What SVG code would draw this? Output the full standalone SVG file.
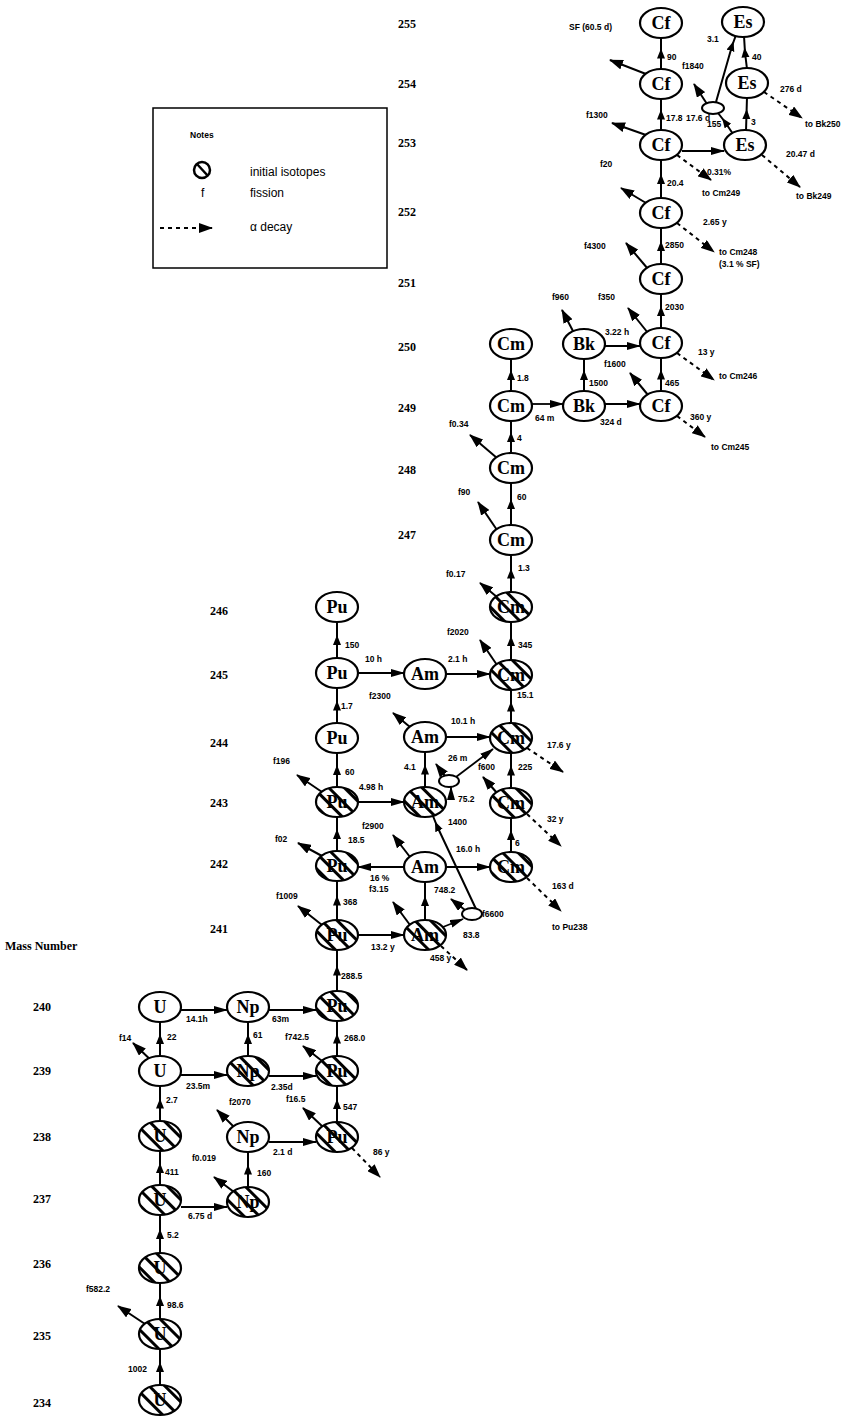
<svg xmlns="http://www.w3.org/2000/svg" width="846" height="1417" viewBox="0 0 846 1417">
<style>
.n ellipse{fill:#fff;stroke:#000;stroke-width:2.2}
.h ellipse{fill:url(#hatch);stroke:#000;stroke-width:2.2}
.s{fill:#fff;stroke:#000;stroke-width:2}
.n text,.h text{font-family:"Liberation Serif",serif;font-size:18px;font-weight:bold;text-anchor:middle}
.c{fill:none;stroke:#000;stroke-width:2;marker-mid:url(#am)}
.b{fill:none;stroke:#000;stroke-width:1.8;marker-end:url(#ae)}
.f{fill:none;stroke:#000;stroke-width:2;marker-end:url(#af)}
.a{fill:none;stroke:#000;stroke-width:2;stroke-dasharray:4 4;marker-end:url(#af)}
.l{font-family:"Liberation Sans",sans-serif;font-size:8.5px;font-weight:bold}
.m{font-family:"Liberation Serif",serif;font-size:12px;font-weight:bold}
.g{font-family:"Liberation Sans",sans-serif;font-size:12px}
</style>
<defs>
<pattern id="hatch" patternUnits="userSpaceOnUse" width="11" height="11" patternTransform="rotate(45)">
<rect width="11" height="11" fill="#fff"/><line x1="0" y1="5.5" x2="11" y2="5.5" stroke="#000" stroke-width="3"/>
</pattern>
<marker id="am" markerUnits="userSpaceOnUse" markerWidth="10" markerHeight="10" refX="5" refY="4" orient="auto"><path d="M0,0 L10,4 L0,8 z"/></marker>
<marker id="ae" markerUnits="userSpaceOnUse" markerWidth="14" markerHeight="10" refX="13" refY="4" orient="auto"><path d="M0,0 L14,4 L0,8 z"/></marker>
<marker id="af" markerUnits="userSpaceOnUse" markerWidth="14" markerHeight="10" refX="13" refY="5" orient="auto"><path d="M0,0 L14,5 L0,10 z"/></marker>
</defs>
<rect width="846" height="1417" fill="#fff"/>

<g id="legend">
<rect x="153" y="108" width="234" height="160" fill="none" stroke="#000" stroke-width="1.5"/>
<text x="190" y="138" class="l" font-size="9">Notes</text>
<circle cx="202" cy="170" r="8" fill="none" stroke="#000" stroke-width="2.5"/>
<line x1="197" y1="164" x2="208" y2="176" stroke="#000" stroke-width="2.5"/>
<text x="250" y="176" class="g">initial isotopes</text>
<text x="201" y="197" class="g">f</text>
<text x="250" y="197" class="g">fission</text>
<path d="M160,228 L212,228" class="a"/>
<text x="250" y="231" class="g">α decay</text>
</g>

<g id="mass-numbers" class="m">
<text x="5" y="950">Mass Number</text>
<text x="33" y="1011">240</text><text x="33" y="1075">239</text><text x="33" y="1141">238</text>
<text x="33" y="1203">237</text><text x="33" y="1268">236</text><text x="33" y="1340">235</text><text x="33" y="1407">234</text>
<text x="210" y="933">241</text><text x="210" y="868">242</text><text x="210" y="807">243</text>
<text x="210" y="747">244</text><text x="210" y="679">245</text><text x="210" y="615">246</text>
<text x="398" y="539">247</text><text x="398" y="474">248</text><text x="398" y="412">249</text>
<text x="398" y="351">250</text><text x="398" y="287">251</text><text x="398" y="216">252</text>
<text x="398" y="147">253</text><text x="398" y="88">254</text><text x="398" y="28">255</text>
</g>

<g id="connectors">
<path class="c" d="M160,1386 L160,1367 L160,1348"/>
<path class="c" d="M160,1320 L160,1301 L160,1282"/>
<path class="c" d="M160,1254 L160,1234 L160,1214"/>
<path class="c" d="M160,1186 L160,1168 L160,1150"/>
<path class="c" d="M160,1122 L160,1103.5 L160,1085"/>
<path class="c" d="M160,1057 L160,1039 L160,1021"/>
<path class="c" d="M248,1188 L248,1169.5 L248,1151"/>
<path class="c" d="M248,1057 L248,1039 L248,1021"/>
<path class="c" d="M337,1123 L337,1104 L337,1085"/>
<path class="c" d="M337,1057 L337,1038.5 L337,1020"/>
<path class="c" d="M337,992 L337,970.5 L337,949"/>
<path class="c" d="M337,921 L337,900.5 L337,880"/>
<path class="c" d="M337,852 L337,834 L337,816"/>
<path class="c" d="M337,788 L337,770 L337,752"/>
<path class="c" d="M337,724 L337,705.5 L337,687"/>
<path class="c" d="M337,659 L337,640 L337,621"/>
<path class="c" d="M425,921 L425,901 L425,881"/>
<path class="c" d="M425,788 L425,769.5 L425,751"/>
<path class="c" d="M511,853 L511,835 L511,817"/>
<path class="c" d="M511,789 L511,770.5 L511,752"/>
<path class="c" d="M511,724 L511,706.5 L511,689"/>
<path class="c" d="M511,661 L511,641 L511,621"/>
<path class="c" d="M511,593 L511,573.5 L511,554"/>
<path class="c" d="M511,526 L511,504 L511,482"/>
<path class="c" d="M511,454 L511,437 L511,420"/>
<path class="c" d="M511,392 L511,375 L511,358"/>
<path class="c" d="M584,392 L584,375 L584,358"/>
<path class="c" d="M661,392 L661,374.5 L661,357"/>
<path class="c" d="M661,329 L661,311 L661,293"/>
<path class="c" d="M661,265 L661,246 L661,227"/>
<path class="c" d="M661,199 L661,179 L661,159"/>
<path class="c" d="M661,131 L661,114.5 L661,98"/>
<path class="c" d="M661,70 L661,53.5 L661,37"/>
<path class="c" d="M746,131 L746.5,114 L747,97"/>
<path class="c" d="M747,69 L745,52.5 L744,36"/>
<path class="c" d="M733,134 L725,122 L718,113"/>
<path class="c" d="M716,102 L732,46 L736,35"/>
<path class="c" d="M476,909 L437,826 L433,816"/>

<path class="b" d="M181,1207 L227,1207"/>
<path class="b" d="M181,1075 L227,1075"/>
<path class="b" d="M181,1010 L227,1010"/>
<path class="b" d="M269,1142 L316,1142"/>
<path class="b" d="M269,1076 L316,1076"/>
<path class="b" d="M269,1010 L316,1010"/>
<path class="b" d="M358,935 L404,935"/>
<path class="b" d="M358,802 L404,802"/>
<path class="b" d="M358,673 L404,673"/>
<path class="b" d="M446,674 L490,674"/>
<path class="b" d="M446,737 L490,737"/>
<path class="b" d="M404,867 L358,867"/>
<path class="b" d="M446,867 L490,867"/>
<path class="b" d="M532,404 L563,404"/>
<path class="b" d="M605,404 L640,404"/>
<path class="b" d="M605,346 L640,346"/>
<path class="b" d="M682,151 L724,151"/>
<path class="b" d="M456,777 L493,749"/>
<path class="b" d="M451,799 L451,787"/>
<path class="b" d="M443,927 L463,919"/>

<path class="f" d="M145,1324 L118,1306"/>
<path class="f" d="M157,1066 L133,1043"/>
<path class="f" d="M234,1192 L214,1177"/>
<path class="f" d="M234,1127 L217,1110"/>
<path class="f" d="M323,1127 L303,1108"/>
<path class="f" d="M322,1061 L303,1046"/>
<path class="f" d="M322,925 L298,906"/>
<path class="f" d="M322,856 L298,843"/>
<path class="f" d="M322,792 L297,775"/>
<path class="f" d="M410,925 L393,902"/>
<path class="f" d="M410,857 L393,835"/>
<path class="f" d="M410,727 L393,713"/>
<path class="f" d="M497,793 L483,777"/>
<path class="f" d="M497,665 L480,640"/>
<path class="f" d="M497,597 L480,583"/>
<path class="f" d="M497,530 L478,502"/>
<path class="f" d="M497,458 L470,435"/>
<path class="f" d="M574,333 L562,310"/>
<path class="f" d="M648,395 L630,373"/>
<path class="f" d="M648,333 L628,308"/>
<path class="f" d="M648,269 L626,243"/>
<path class="f" d="M646,203 L621,188"/>
<path class="f" d="M646,135 L612,123"/>
<path class="f" d="M646,74 L610,60"/>
<path class="f" d="M445,776 L436,764"/>
<path class="f" d="M465,910 L451,899"/>
<path class="f" d="M707,104 L694,84"/>

<path class="a" d="M352,1148 L380,1177"/>
<path class="a" d="M441,946 L467,970"/>
<path class="a" d="M527,878 L561,911"/>
<path class="a" d="M527,814 L561,846"/>
<path class="a" d="M527,748 L563,772"/>
<path class="a" d="M677,416 L705,437"/>
<path class="a" d="M677,353 L714,380"/>
<path class="a" d="M677,223 L714,252"/>
<path class="a" d="M677,155 L711,180"/>
<path class="a" d="M762,155 L800,187"/>
<path class="a" d="M764,92 L802,118"/>
</g>

<g id="labels" class="l">
<text x="128" y="1372">1002</text><text x="167" y="1308">98.6</text><text x="167" y="1238">5.2</text>
<text x="165" y="1175">411</text><text x="166" y="1103">2.7</text><text x="167" y="1040">22</text>
<text x="257" y="1176">160</text><text x="253" y="1038">61</text><text x="343" y="1110">547</text>
<text x="344" y="1041">268.0</text><text x="341" y="979">288.5</text><text x="343" y="905">368</text>
<text x="348" y="843">18.5</text><text x="345" y="775">60</text><text x="341" y="709">1.7</text>
<text x="345" y="648">150</text><text x="434" y="893">748.2</text><text x="404" y="770">4.1</text>
<text x="515" y="846">6</text><text x="518" y="770">225</text><text x="517" y="698">15.1</text>
<text x="518" y="648">345</text><text x="518" y="571">1.3</text><text x="517" y="500">60</text>
<text x="517" y="441">4</text><text x="517" y="381">1.8</text><text x="589" y="386">1500</text>
<text x="665" y="386">465</text><text x="665" y="310">2030</text><text x="665" y="248">2850</text>
<text x="667" y="186">20.4</text><text x="666" y="121">17.8</text><text x="667" y="60">90</text>
<text x="751" y="125">3</text><text x="752" y="60">40</text>
<text x="707" y="127">155</text><text x="707" y="42">3.1</text><text x="682" y="69">f1840</text>
<text x="448" y="825">1400</text><text x="458" y="802">75.2</text><text x="448" y="761">26 m</text>
<text x="463" y="938">83.8</text><text x="482" y="917">f6600</text>

<text x="188" y="1219">6.75 d</text><text x="186" y="1089">23.5m</text><text x="186" y="1022">14.1h</text>
<text x="273" y="1155">2.1 d</text><text x="271" y="1090">2.35d</text><text x="272" y="1022">63m</text>
<text x="371" y="950">13.2 y</text><text x="359" y="790">4.98 h</text><text x="365" y="662">10 h</text>
<text x="448" y="662">2.1 h</text><text x="451" y="724">10.1 h</text><text x="370" y="881">16 %</text>
<text x="456" y="852">16.0 h</text><text x="535" y="421">64 m</text><text x="600" y="425">324 d</text>
<text x="605" y="335">3.22 h</text><text x="686" y="121">17.6 d</text>

<text x="86" y="1292">f582.2</text><text x="119" y="1041">f14</text><text x="192" y="1161">f0.019</text>
<text x="229" y="1105">f2070</text><text x="286" y="1102">f16.5</text><text x="285" y="1040">f742.5</text>
<text x="276" y="899">f1009</text><text x="275" y="842">f02</text><text x="273" y="764">f196</text>
<text x="369" y="892">f3.15</text><text x="362" y="829">f2900</text><text x="369" y="699">f2300</text>
<text x="478" y="770">f600</text><text x="447" y="635">f2020</text><text x="446" y="577">f0.17</text>
<text x="458" y="495">f90</text><text x="449" y="427">f0.34</text><text x="552" y="300">f960</text>
<text x="604" y="367">f1600</text><text x="598" y="300">f350</text><text x="584" y="249">f4300</text>
<text x="600" y="167">f20</text><text x="586" y="118">f1300</text><text x="569" y="30">SF (60.5 d)</text>

<text x="373" y="1155">86 y</text><text x="430" y="961">458 y</text>
<text x="552" y="889">163 d</text><text x="552" y="930">to Pu238</text>
<text x="547" y="822">32 y</text><text x="547" y="748">17.6 y</text>
<text x="690" y="420">360 y</text><text x="711" y="450">to Cm245</text>
<text x="698" y="355">13 y</text><text x="719" y="379">to Cm246</text>
<text x="703" y="225">2.65 y</text><text x="719" y="255">to Cm248</text><text x="719" y="267">(3.1 % SF)</text>
<text x="707" y="175">0.31%</text><text x="702" y="196">to Cm249</text>
<text x="786" y="157">20.47 d</text><text x="796" y="199">to Bk249</text>
<text x="780" y="92">276 d</text><text x="805" y="127">to Bk250</text>
</g>

<g id="U234" class="h"><ellipse cx="160" cy="1400" rx="21" ry="15"/><text x="160" y="1406">U</text></g>
<g id="U235" class="h"><ellipse cx="160" cy="1334" rx="21" ry="15"/><text x="160" y="1340">U</text></g>
<g id="U236" class="h"><ellipse cx="160" cy="1268" rx="21" ry="15"/><text x="160" y="1274">U</text></g>
<g id="U237" class="h"><ellipse cx="160" cy="1200" rx="21" ry="15"/><text x="160" y="1206">U</text></g>
<g id="U238" class="h"><ellipse cx="160" cy="1136" rx="21" ry="15"/><text x="160" y="1142">U</text></g>
<g id="U239" class="n"><ellipse cx="160" cy="1071" rx="21" ry="15"/><text x="160" y="1077">U</text></g>
<g id="U240" class="n"><ellipse cx="160" cy="1007" rx="21" ry="15"/><text x="160" y="1013">U</text></g>
<g id="Np237" class="h"><ellipse cx="248" cy="1202" rx="21" ry="15"/><text x="248" y="1208">Np</text></g>
<g id="Np238" class="n"><ellipse cx="248" cy="1137" rx="21" ry="15"/><text x="248" y="1143">Np</text></g>
<g id="Np239" class="h"><ellipse cx="248" cy="1071" rx="21" ry="15"/><text x="248" y="1077">Np</text></g>
<g id="Np240" class="n"><ellipse cx="248" cy="1007" rx="21" ry="15"/><text x="248" y="1013">Np</text></g>
<g id="Pu238" class="h"><ellipse cx="337" cy="1137" rx="21" ry="15"/><text x="337" y="1143">Pu</text></g>
<g id="Pu239" class="h"><ellipse cx="337" cy="1071" rx="21" ry="15"/><text x="337" y="1077">Pu</text></g>
<g id="Pu240" class="h"><ellipse cx="337" cy="1006" rx="21" ry="15"/><text x="337" y="1012">Pu</text></g>
<g id="Pu241" class="h"><ellipse cx="337" cy="935" rx="21" ry="15"/><text x="337" y="941">Pu</text></g>
<g id="Pu242" class="h"><ellipse cx="337" cy="866" rx="21" ry="15"/><text x="337" y="872">Pu</text></g>
<g id="Pu243" class="h"><ellipse cx="337" cy="802" rx="21" ry="15"/><text x="337" y="808">Pu</text></g>
<g id="Pu244" class="n"><ellipse cx="337" cy="738" rx="21" ry="15"/><text x="337" y="744">Pu</text></g>
<g id="Pu245" class="n"><ellipse cx="337" cy="673" rx="21" ry="15"/><text x="337" y="679">Pu</text></g>
<g id="Pu246" class="n"><ellipse cx="337" cy="607" rx="21" ry="15"/><text x="337" y="613">Pu</text></g>
<g id="Am241" class="h"><ellipse cx="425" cy="935" rx="21" ry="15"/><text x="425" y="941">Am</text></g>
<g id="Am242" class="n"><ellipse cx="425" cy="867" rx="21" ry="15"/><text x="425" y="873">Am</text></g>
<g id="Am243" class="h"><ellipse cx="425" cy="802" rx="21" ry="15"/><text x="425" y="808">Am</text></g>
<g id="Am244" class="n"><ellipse cx="425" cy="737" rx="21" ry="15"/><text x="425" y="743">Am</text></g>
<g id="Am245" class="n"><ellipse cx="425" cy="674" rx="21" ry="15"/><text x="425" y="680">Am</text></g>
<g id="Am242m"><ellipse class="s" cx="472" cy="914" rx="10" ry="6"/></g>
<g id="Am244m"><ellipse class="s" cx="449" cy="781" rx="10" ry="6"/></g>
<g id="Cm242" class="h"><ellipse cx="511" cy="867" rx="21" ry="15"/><text x="511" y="873">Cm</text></g>
<g id="Cm243" class="h"><ellipse cx="511" cy="803" rx="21" ry="15"/><text x="511" y="809">Cm</text></g>
<g id="Cm244" class="h"><ellipse cx="511" cy="738" rx="21" ry="15"/><text x="511" y="744">Cm</text></g>
<g id="Cm245" class="h"><ellipse cx="511" cy="675" rx="21" ry="15"/><text x="511" y="681">Cm</text></g>
<g id="Cm246" class="h"><ellipse cx="511" cy="607" rx="21" ry="15"/><text x="511" y="613">Cm</text></g>
<g id="Cm247" class="n"><ellipse cx="511" cy="540" rx="21" ry="15"/><text x="511" y="546">Cm</text></g>
<g id="Cm248" class="n"><ellipse cx="511" cy="468" rx="21" ry="15"/><text x="511" y="474">Cm</text></g>
<g id="Cm249" class="n"><ellipse cx="511" cy="406" rx="21" ry="15"/><text x="511" y="412">Cm</text></g>
<g id="Cm250" class="n"><ellipse cx="511" cy="344" rx="21" ry="15"/><text x="511" y="350">Cm</text></g>
<g id="Bk249" class="n"><ellipse cx="584" cy="406" rx="21" ry="15"/><text x="584" y="412">Bk</text></g>
<g id="Bk250" class="n"><ellipse cx="584" cy="344" rx="21" ry="15"/><text x="584" y="350">Bk</text></g>
<g id="Cf249" class="n"><ellipse cx="661" cy="406" rx="21" ry="15"/><text x="661" y="412">Cf</text></g>
<g id="Cf250" class="n"><ellipse cx="661" cy="343" rx="21" ry="15"/><text x="661" y="349">Cf</text></g>
<g id="Cf251" class="n"><ellipse cx="661" cy="279" rx="21" ry="15"/><text x="661" y="285">Cf</text></g>
<g id="Cf252" class="n"><ellipse cx="661" cy="213" rx="21" ry="15"/><text x="661" y="219">Cf</text></g>
<g id="Cf253" class="n"><ellipse cx="661" cy="145" rx="21" ry="15"/><text x="661" y="151">Cf</text></g>
<g id="Cf254" class="n"><ellipse cx="661" cy="84" rx="21" ry="15"/><text x="661" y="90">Cf</text></g>
<g id="Cf255" class="n"><ellipse cx="661" cy="23" rx="21" ry="15"/><text x="661" y="29">Cf</text></g>
<g id="Es253" class="n"><ellipse cx="745" cy="145" rx="21" ry="15"/><text x="745" y="151">Es</text></g>
<g id="Es254" class="n"><ellipse cx="747" cy="83" rx="21" ry="15"/><text x="747" y="89">Es</text></g>
<g id="Es255" class="n"><ellipse cx="743" cy="22" rx="21" ry="15"/><text x="743" y="28">Es</text></g>
<g id="Es254m"><ellipse class="s" cx="713" cy="108" rx="11" ry="6"/></g>
</svg>
